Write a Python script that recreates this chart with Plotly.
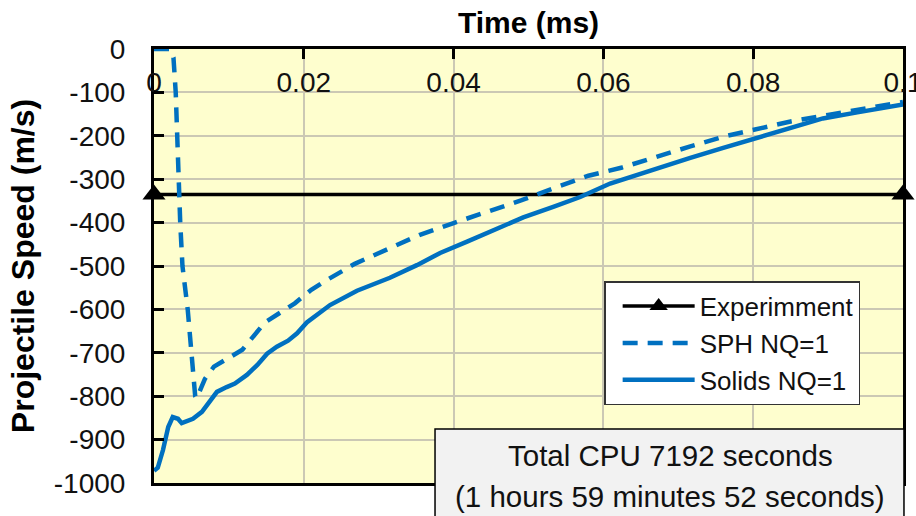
import plotly.graph_objects as go

# ---------------- data ----------------
time_exp = [0.0, 0.1]
speed_exp = [-335, -335]

time_sph = [0, 0.0021, 0.0026, 0.0029, 0.0035, 0.0038, 0.0045, 0.0050, 0.0055, 0.0057,
            0.0061, 0.0068, 0.0080, 0.0100, 0.0118, 0.0148, 0.0188, 0.0210, 0.0228, 0.0268,
            0.0310, 0.0355, 0.0400, 0.0444, 0.0490, 0.0535, 0.0580, 0.0625, 0.0670, 0.0715,
            0.0760, 0.0808, 0.0850, 0.0900, 0.0946, 0.1000]
speed_sph = [0, 0, -20, -100, -400, -500, -600, -715, -800, -805,
             -790, -760, -732, -710, -693, -630, -586, -555, -535, -495,
             -462, -428, -401, -376, -349, -320, -292, -273, -248, -225,
             -202, -184, -167, -152, -137, -122]

time_solid = [0, 0.0005, 0.0012, 0.0019, 0.0025, 0.0032, 0.0037, 0.0044, 0.0052, 0.0064,
              0.0072, 0.0084, 0.0097, 0.0108, 0.0124, 0.0138, 0.0151, 0.0164, 0.0179, 0.0191,
              0.0204, 0.0235, 0.0271, 0.0315, 0.0351, 0.0382, 0.0418, 0.0458, 0.0493, 0.0533,
              0.0569, 0.0609, 0.0672, 0.0716, 0.0760, 0.0805, 0.0849, 0.0893, 0.0939, 0.1000]
speed_solid = [-972, -965, -924, -871, -848, -852, -862, -856, -852, -836,
               -816, -790, -779, -771, -751, -728, -702, -686, -672, -655,
               -630, -590, -557, -527, -498, -470, -444, -413, -388, -364,
               -341, -310, -274, -251, -228, -205, -180, -160, -146, -128]

x_tickvals = [0, 0.02, 0.04, 0.06, 0.08, 0.1]
x_ticktext = ["0", "0.02", "0.04", "0.06", "0.08", "0.1"]
y_tickvals = [0, -100, -200, -300, -400, -500, -600, -700, -800, -900, -1000]
y_ticktext = ["0", "-100", "-200", "-300", "-400", "-500", "-600", "-700", "-800", "-900", "-1000"]

names = ["Experimment", "SPH NQ=1", "Solids NQ=1"]
cpu_lines = ["Total CPU 7192 seconds", "(1 hours 59 minutes 52 seconds)"]

# ---------------- figure ----------------
FONT = "Arial, Liberation Sans, sans-serif"
BLUE = "#0070C0"

fig = go.Figure()
fig.add_trace(go.Scatter(
    x=time_exp, y=speed_exp, name=names[0], mode="lines+markers",
    line=dict(color="black", width=3.5),
    marker=dict(symbol="triangle-up", size=20, color="black"),
    cliponaxis=False))
fig.add_trace(go.Scatter(
    x=time_sph, y=speed_sph, name=names[1], mode="lines",
    line=dict(color=BLUE, width=4.5, dash="15px,10px")))
fig.add_trace(go.Scatter(
    x=time_solid, y=speed_solid, name=names[2], mode="lines",
    line=dict(color=BLUE, width=4.5)))

fig.update_layout(
    width=916, height=516,
    margin=dict(l=154, r=13, t=49, b=33, autoexpand=False),
    paper_bgcolor="white",
    plot_bgcolor="#FEFECE",
    font=dict(family=FONT, color="#111111"),
    showlegend=True,
    legend=dict(
        x=0.601, y=0.465, xanchor="left", yanchor="top",
        bgcolor="white", bordercolor="#333333", borderwidth=1.5,
        font=dict(size=26, family=FONT, color="#111111"),
        itemwidth=72, tracegroupgap=0, indentation=12,
    ),
)

fig.update_xaxes(
    range=[0, 0.1], side="top", automargin=False,
    tickvals=x_tickvals, ticktext=x_ticktext,
    ticks="inside", ticklen=10, tickwidth=2.5, tickcolor="black",
    ticklabelposition="inside", ticklabeloverflow="allow", ticklabelstandoff=16,
    tickfont=dict(size=28, family=FONT, color="#111111"),
    showline=True, linecolor="black", linewidth=3, mirror=True,
    showgrid=True, gridcolor="#CBC8B4", gridwidth=1.5,
    zeroline=False,
    title=dict(text="<b>Time (ms)</b>", font=dict(size=30, family=FONT, color="black"),
               standoff=25),
)
fig.update_yaxes(
    range=[-1000, 0], automargin=False,
    tickvals=y_tickvals, ticktext=y_ticktext,
    ticks="inside", ticklen=10, tickwidth=2.5, tickcolor="black",
    ticklabelstandoff=20,
    tickfont=dict(size=28, family=FONT, color="#111111"),
    showline=True, linecolor="black", linewidth=3, mirror=True,
    showgrid=True, gridcolor="#CBC8B4", gridwidth=1.5,
    zeroline=False,
    title=dict(text="<b>Projectile Speed (m/s)</b>", font=dict(size=32, family=FONT, color="black"),
               standoff=10),
)

# CPU-time box
fig.add_shape(type="rect", xref="paper", yref="paper",
              x0=0.3752, x1=1.0013, y0=-0.2, y1=0.1244,
              fillcolor="#F2F2F2", line=dict(color="black", width=1.5), layer="above")
fig.add_annotation(xref="paper", yref="paper", x=0.689, y=0.0645, text=cpu_lines[0],
                   showarrow=False, xanchor="center", yanchor="middle",
                   font=dict(size=29.5, family=FONT, color="#111111"))
fig.add_annotation(xref="paper", yref="paper", x=0.689, y=-0.032, text=cpu_lines[1],
                   showarrow=False, xanchor="center", yanchor="middle",
                   font=dict(size=29.5, family=FONT, color="#111111"))

fig.write_html("out.html")
